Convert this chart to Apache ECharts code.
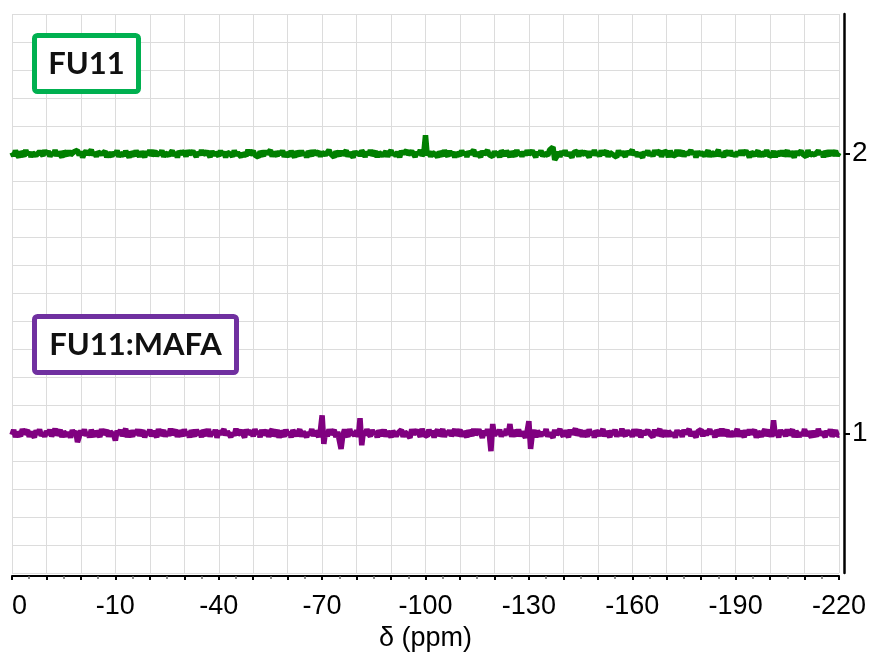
<!DOCTYPE html>
<html>
<head>
<meta charset="utf-8">
<style>
html,body{margin:0;padding:0;background:#fff;}
#chart{width:871px;height:655px;}
</style>
<script src="https://cdn.jsdelivr.net/npm/echarts@6/dist/echarts.min.js"></script>
</head>
<body>
<div id="chart"></div>
<script>
// ---- data ----
var ppmStart = 20;
var ppmEnd = -220;
var xTickLabels = [20, -10, -40, -70, -100, -130, -160, -190, -220];
var yTickLabels = [1, 2];
var seriesNames = ['FU11', 'FU11:MAFA'];
var seriesOffsets = [2, 1];
// deviations from each trace's baseline, in thousandths, sampled every 0.5 ppm from 20 to -220
var fu11Noise = [
5,-8,11,-3,-12,7,2,-9,13,-4,6,-11,3,9,-6,-13,8,1,-7,12,
-2,10,-10,4,-5,13,-8,6,-1,-12,9,3,-7,11,-4,-9,7,0,12,-6,
8,-13,2,10,-3,-8,14,-5,4,-10,6,11,-2,-7,9,-12,3,7,-9,5,
-4,12,-11,1,8,-6,10,-3,-13,6,2,-8,11,-1,-10,7,4,-12,9,-5,
13,-7,0,10,-9,5,-3,12,-11,3,8,-6,-2,11,-8,6,-13,9,1,-4,
7,-10,12,-2,-7,9,3,-11,6,-5,13,-3,-9,8,2,-12,10,-6,4,-1,
-8,11,-4,7,-13,5,9,-2,-10,12,-6,3,8,-11,1,6,-7,14,-3,-9,
10,-5,2,-12,8,4,-8,11,-1,-6,13,-10,5,0,-7,9,-4,12,-11,3,
6,-9,10,-3,-12,8,1,-7,11,-5,4,-13,9,2,-8,12,-2,-6,7,-10,
5,11,-4,-9,13,-1,6,-12,8,3,-7,10,-5,-2,12,-10,4,7,-13,9,
-3,6,-8,11,2,-11,7,-4,13,-6,0,9,-12,5,10,-7,-1,8,-10,4,
12,-5,3,-9,7,-13,10,1,-6,11,-3,-8,9,4,-11,6,-2,13,-7,2,
66,-6,8,-10,4,11,-4,-12,7,2,-8,12,-1,-9,10,-5,6,-13,3,9,
-7,11,-3,5,-11,8,0,-6,13,-9,4,7,-12,10,-2,-8,12,-4,1,-10,
9,-5,6,-13,11,3,-7,10,-1,-11,8,2,-9,13,-4,5,-10,7,-6,12,
-2,-8,10,4,-12,6,-3,11,-9,1,8,-6,13,12,24,-22,-12,7,-11,9,
-4,12,-7,3,10,-13,5,-1,8,-10,11,-3,-8,6,2,-12,9,-5,13,-6,
4,-9,11,-2,-7,10,-11,5,8,-4,1,-12,12,-6,7,3,-10,9,-1,-8,
13,-5,6,-10,2,9,-13,7,-3,11,-7,4,-9,12,0,-6,10,-11,5,-2,
8,-12,11,-4,3,-8,13,-6,1,10,-10,6,-3,-9,12,-1,7,-13,9,-5,
4,10,-7,-2,12,-11,5,8,-6,-1,13,-9,3,-12,9,6,-4,11,-8,2,
-10,7,-5,12,-3,-8,10,1,-13,6,9,-6,-2,11,-11,4,8,-7,13,-4,
3,-9,10,-12,6,2,-5,11,-8,-1,12,-10,7,4,-13,9,-3,-6,10,-2,
5,-11,13,-7,1,8,-4,-10,11,-2,6,-12,9,3,-8,12,-5,-1,10,-7,
4
];
var mafaNoise = [
-6,12,-14,3,9,-10,15,-2,-8,11,-13,5,7,-15,10,-4,14,-9,1,-12,
8,-5,13,-11,2,16,-7,-3,12,-14,6,9,-10,4,-16,11,-1,7,-32,-13,
10,-6,14,-9,3,-15,12,-2,-11,8,5,-13,15,-4,-8,11,-12,6,13,-7,
-26,9,-3,12,-10,4,16,-14,7,-1,-12,11,-6,14,-9,2,10,-15,5,-4,
13,-11,8,-3,-14,15,-7,1,11,-12,6,-9,16,-5,-2,12,-13,9,3,-10,
14,-8,5,-15,10,-1,-11,13,-6,7,-14,11,2,-9,15,-12,4,-4,12,-16,
9,-3,-10,14,-7,6,11,-13,1,-8,16,-5,-12,10,3,-15,13,-2,-9,8,
-11,15,-4,7,-14,12,-6,0,10,-13,5,14,-10,-3,11,-16,8,2,-12,13,
-7,4,-15,11,9,-9,-2,14,-12,6,12,-14,3,-6,15,-10,7,-1,-13,10,
64,-38,8,-11,14,-4,-9,12,-14,5,10,-56,-8,13,-3,-12,15,-6,2,-10,
11,-13,54,-43,9,-7,14,-2,-11,12,-5,6,-15,10,3,-9,13,-12,7,-4,
-14,8,15,-10,1,-6,12,-13,5,10,-8,-16,14,-3,-9,11,6,-12,16,-5,
2,-11,13,-7,9,-15,4,12,-9,-1,15,-13,7,-4,11,-10,3,14,-8,-6,
13,-12,6,-3,-14,10,8,-9,15,-5,-11,12,1,-16,9,-7,14,-2,-64,33,
-10,11,-4,13,-12,6,-8,15,-6,33,-13,10,-1,-9,14,-11,5,12,-15,7,
43,-56,-3,11,-14,8,13,-10,4,-7,15,-12,2,9,-16,12,-5,-8,14,-2,
-11,10,6,-14,13,-4,-9,16,-7,3,11,-13,8,-1,-12,14,-6,5,-15,9,
12,-8,-3,15,-11,7,1,-14,10,-5,13,-12,4,-9,16,-2,-10,11,-6,8,
-13,14,-7,2,12,-15,9,-4,-10,11,-1,6,-14,13,-8,5,15,-11,-3,10,
-12,7,14,-9,3,-16,11,-5,8,-13,12,-2,-7,15,-10,4,9,-14,6,-1,
13,-11,10,-6,-12,14,-3,7,-15,11,2,-9,16,-8,-4,12,-13,5,9,-10,
-5,15,-12,8,1,-14,11,-7,13,-3,-10,12,-16,6,10,-11,3,14,-9,-2,
11,-13,46,-8,6,-15,12,-4,9,-11,14,-6,-1,13,-14,7,10,-12,2,-9,
15,-10,5,12,-14,8,-3,-11,16,-7,4,11,-13,9,-5,14,-12,1,10,-8,
-6
];

function buildTrace(noise, offset) {
  var n = noise.length;
  var step = (ppmEnd - ppmStart) / (n - 1);
  var out = [];
  for (var i = 0; i < n; i++) {
    out.push([ppmStart + step * i, offset + noise[i] / 1000]);
  }
  return out;
}

var chart = echarts.init(document.getElementById('chart'), null, {renderer: 'canvas'});
var axisFont = '"Liberation Sans", Arial, sans-serif';
var option = {
  animation: false,
  backgroundColor: '#ffffff',
  grid: {left: 12, right: 32, top: 14, bottom: 82, containLabel: false, outerBoundsMode: 'none'},
  xAxis: {
    type: 'value',
    min: ppmEnd,
    max: ppmStart,
    interval: 10,
    inverse: true,
    offset: 3,
    axisLine: {show: true, onZero: false, lineStyle: {color: '#000', width: 2}},
    axisTick: {show: true, length: 4, lineStyle: {color: '#000', width: 2}},
    minorTick: {show: true, splitNumber: 2, length: 3, lineStyle: {color: '#666', width: 1.5}},
    splitLine: {show: true, lineStyle: {color: '#dcdcdc', width: 1}},
    axisLabel: {
      customValues: xTickLabels,
      fontSize: 27,
      fontFamily: axisFont,
      color: '#000',
      margin: 17
    },
    name: 'δ (ppm)',
    nameLocation: 'middle',
    nameGap: 46,
    nameTextStyle: {fontSize: 27, fontFamily: axisFont, color: '#000'}
  },
  yAxis: [
    {
      // grid lines every 0.1
      type: 'value',
      min: 0.5,
      max: 2.5,
      interval: 0.1,
      position: 'right',
      axisLine: {show: false, onZero: false},
      axisTick: {show: false},
      axisLabel: {show: false},
      splitLine: {show: true, lineStyle: {color: '#dcdcdc', width: 1}}
    },
    {
      // visible axis with labels at 1 and 2
      type: 'value',
      min: 0.5,
      max: 2.5,
      interval: 0.5,
      position: 'right',
      offset: 5,
      axisLine: {show: true, onZero: false, lineStyle: {color: '#000', width: 2.5}},
      axisTick: {show: true, customValues: yTickLabels, length: 6, lineStyle: {color: '#000', width: 2}},
      splitLine: {show: false},
      axisLabel: {
        customValues: yTickLabels,
        fontSize: 28,
        fontFamily: axisFont,
        color: '#000',
        margin: 8
      }
    }
  ],
  series: [
    {
      name: seriesNames[0],
      type: 'line',
      yAxisIndex: 0,
      showSymbol: false,
      sampling: null,
      data: buildTrace(fu11Noise, seriesOffsets[0]),
      lineStyle: {color: '#008000', width: 5.5},
      itemStyle: {color: '#008000'},
      z: 3
    },
    {
      name: seriesNames[1],
      type: 'line',
      yAxisIndex: 0,
      showSymbol: false,
      sampling: null,
      data: buildTrace(mafaNoise, seriesOffsets[1]),
      lineStyle: {color: '#800080', width: 5.5},
      itemStyle: {color: '#800080'},
      z: 3
    }
  ],
  graphic: [
    {
      type: 'rect',
      shape: {x: 34.5, y: 35.5, width: 104, height: 56, r: 3},
      style: {fill: '#fff', stroke: '#00b050', lineWidth: 5},
      z: 10
    },
    {
      type: 'text',
      x: 86.5, y: 64,
      style: {text: seriesNames[0], font: 'bold 31px Lato, "Open Sans", sans-serif', fill: '#111', align: 'center', verticalAlign: 'middle'},
      z: 11
    },
    {
      type: 'rect',
      shape: {x: 34.5, y: 316.5, width: 202, height: 56, r: 3},
      style: {fill: '#fff', stroke: '#7030a0', lineWidth: 5},
      z: 10
    },
    {
      type: 'text',
      x: 135.5, y: 345,
      style: {text: seriesNames[1], font: 'bold 31px Lato, "Open Sans", sans-serif', fill: '#111', align: 'center', verticalAlign: 'middle'},
      z: 11
    },
    {
      type: 'rect',
      shape: {x: 0, y: 584, width: 12, height: 40},
      style: {fill: '#fff'},
      z: 100
    }
  ]
};
chart.setOption(option);
</script>
</body>
</html>
